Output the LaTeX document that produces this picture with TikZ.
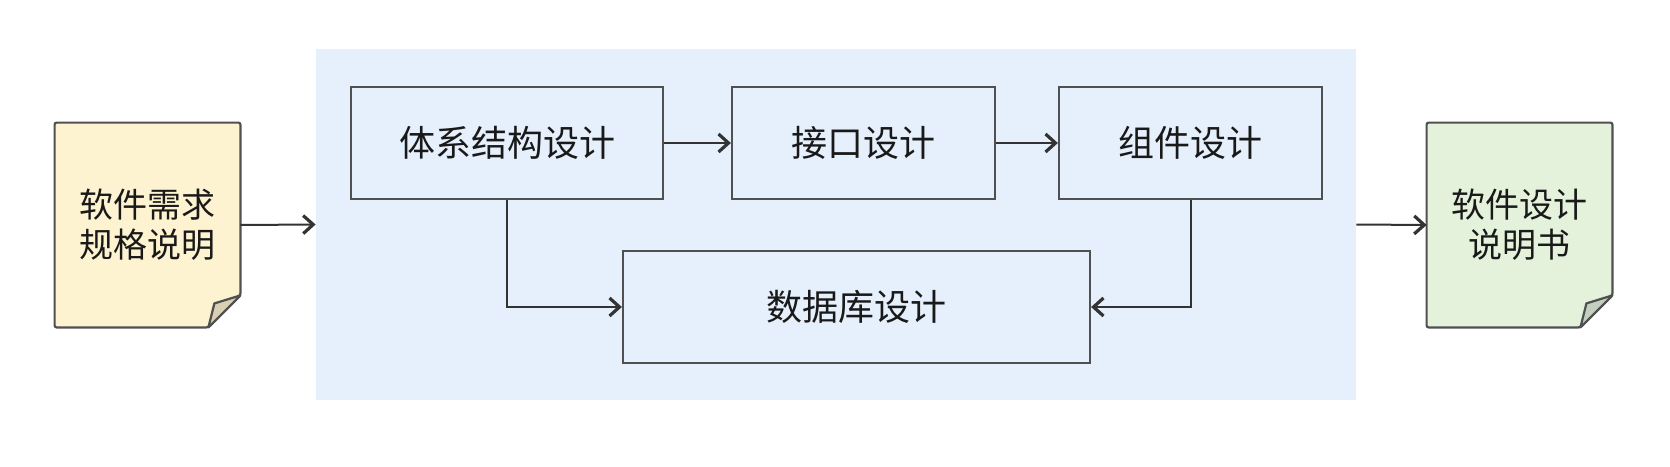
\documentclass[tikz,border=0pt]{standalone}
\usepackage{fontspec}
\newfontfamily\cjk{Noto Sans CJK SC}
\usetikzlibrary{arrows.meta}
\definecolor{panelblue}{HTML}{E6F0FC}
\definecolor{edgegray}{HTML}{505050}
\definecolor{reqyellow}{HTML}{FDF3D0}
\definecolor{reqfold}{HTML}{D9CFB4}
\definecolor{specgreen}{HTML}{E4F2DC}
\definecolor{specfold}{HTML}{C4CFBF}
\tikzset{procbox/.style={draw=edgegray,line width=1.1pt,fill=panelblue,
  minimum height=56pt,font=\cjk\fontsize{18}{20}\selectfont,text=black!90},
  docnode/.style={minimum width=92.5pt,minimum height=102pt,align=center,
  font=\cjk\fontsize{17}{20}\selectfont,text=black!90},
  flowarr/.style={draw=black!80,line width=1pt,
  -{Straight Barb[length=5pt,width=9pt,line width=1.6pt]}}}

\begin{document}
\begin{tikzpicture}[x=0.5pt,y=-0.5pt]
  \useasboundingbox[fill=white] (0,0) rectangle (1670,466);
  \node[fill=panelblue,minimum width=520pt,minimum height=175.5pt] (panel) at (836,224.5) {};
  % paper sheets
  \node[docnode] (req) at (147.5,225) {软件需求\\规格说明};
  \node[docnode] (spec) at (1519.5,225) {软件设计\\说明书};
  \foreach \d/\c/\f in {req/reqyellow/reqfold,spec/specgreen/specfold}{
    \draw[edgegray,line width=1.1pt,fill=\c,rounded corners=1pt]
      (\d.north west) -- (\d.north east) -- ([yshift=16pt]\d.south east)
      -- ([xshift=-16pt]\d.south east) -- (\d.south west) -- cycle;
    \draw[edgegray,line width=1.1pt,fill=\f,line join=round]
      ([yshift=16pt]\d.south east) -- ([xshift=-16pt]\d.south east)
      -- ([xshift=-13pt,yshift=12pt]\d.south east) -- cycle;
  }
  \node[docnode] at (req) {软件需求\\规格说明};
  \node[docnode] at (spec) {软件设计\\说明书};
  % design steps
  \node[procbox,minimum width=156pt] (arch) at (507,143) {体系结构设计};
  \node[procbox,minimum width=131.5pt] (iface) at (863.5,143) {接口设计};
  \node[procbox,minimum width=131.5pt] (comp) at (1190.5,143) {组件设计};
  \node[procbox,minimum width=233.5pt] (db) at (856.5,307) {数据库设计};
  \draw[flowarr] (arch) -- (iface);
  \draw[flowarr] (iface) -- (comp);
  \draw[flowarr] (arch.south) |- (db.west);
  \draw[flowarr] (comp.south) |- (db.east);
  \draw[flowarr] (req.east) -- (panel.west);
  \draw[flowarr] (panel.east) -- (spec.west);
\end{tikzpicture}
\end{document}
